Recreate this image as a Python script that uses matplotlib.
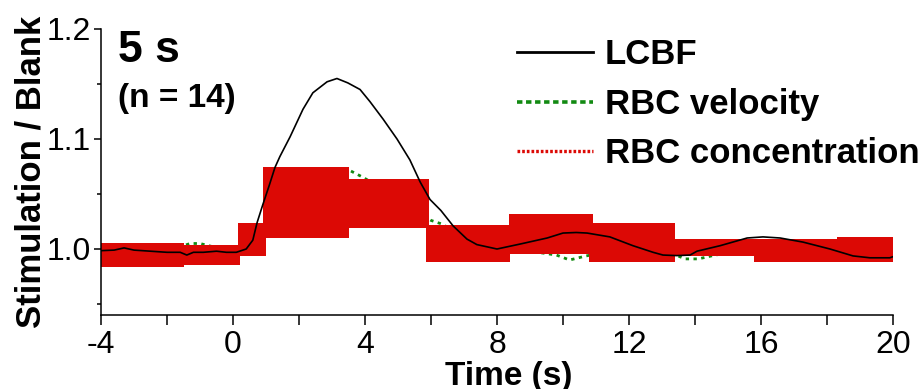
import matplotlib
matplotlib.use("Agg")
import matplotlib.pyplot as plt
from matplotlib.lines import Line2D
from matplotlib.ticker import MultipleLocator
import numpy as np

plt.rcParams['font.family'] = ['Liberation Sans', 'DejaVu Sans']

# ---- data ----
lcbf_t = [-4.0, -3.6, -3.3, -3.0, -2.5, -2.0, -1.6, -1.4, -1.2, -0.9, -0.5, -0.2, 0.1, 0.4,
          0.6, 0.73, 0.9, 1.1, 1.27, 1.42, 1.73, 2.12, 2.42, 2.85, 3.15, 3.48, 3.85, 4.15,
          4.55, 4.97, 5.36, 5.67, 5.97, 6.3, 6.67, 7.09, 7.39, 8.0, 8.7, 9.52, 10.0, 10.4,
          10.73, 11.42, 12.12, 12.73, 13.03, 13.45, 13.85, 14.06, 14.76, 15.58, 16.06, 16.58,
          17.27, 18.09, 18.79, 19.3, 19.9, 20.0]
lcbf = [0.9985, 0.999, 1.001, 0.999, 0.998, 0.997, 0.997, 0.9945, 0.997, 0.997, 0.998, 0.997,
        0.997, 1.0, 1.008, 1.024, 1.040, 1.058, 1.074, 1.084, 1.102, 1.127, 1.142, 1.152,
        1.155, 1.151, 1.145, 1.134, 1.118, 1.100, 1.081, 1.061, 1.045, 1.035, 1.021, 1.009,
        1.004, 1.000, 1.0045, 1.010, 1.0145, 1.015, 1.0145, 1.011, 1.003, 0.997, 0.9945,
        0.994, 0.9945, 0.998, 1.003, 1.010, 1.011, 1.010, 1.0063, 1.000, 0.9937, 0.992,
        0.992, 0.993]

vel_t = [-4, -3, -2, -1.6, -1.3, -1.0, -0.6, 0.0, 0.5, 1.0, 1.5, 2.0, 2.5, 3.0, 3.5, 3.95,
         4.5, 5.0, 5.5, 6.0, 6.3, 7.0, 8.0, 9.0, 9.8, 10.2, 10.7, 11.5, 12.5, 13.3, 13.7,
         14.1, 14.5, 15.2, 16.0, 17.0, 18.0, 19.0, 20.0]
vel = [0.998, 0.999, 1.000, 1.002, 1.005, 1.005, 1.002, 1.000, 1.005, 1.020, 1.038, 1.052,
       1.062, 1.069, 1.072, 1.065, 1.055, 1.046, 1.036, 1.026, 1.023, 1.012, 1.002, 0.998,
       0.9945, 0.990, 0.9937, 0.998, 0.999, 0.996, 0.991, 0.991, 0.9937, 0.998, 1.001,
       1.001, 0.998, 0.994, 0.993]

conc_start = [-4.0, -1.5, 0.15, 0.9, 3.5, 5.85, 8.35, 10.8, 13.4, 15.8, 18.3]
conc_end = [-1.5, 0.2, 1.0, 3.5, 5.95, 8.4, 10.9, 13.4, 15.8, 18.3, 20.0]
conc_mean = [0.9946, 0.9946, 1.0086, 1.0421, 1.0412, 1.0050, 1.0136, 1.0059, 1.0014, 0.9986, 0.9996]
conc_sem = [0.0109, 0.0090, 0.0149, 0.0321, 0.0222, 0.0168, 0.0181, 0.0177, 0.0077, 0.0104, 0.0114]

xticks = [-4, 0, 4, 8, 12, 16, 20]
yticks = [1.0, 1.1, 1.2]

RED = '#dc0905'
GREEN = '#128a12'

fig = plt.figure(figsize=(9.24, 3.89), dpi=100)
ax = fig.add_axes([101/924, 74/389, 792/924, 286/389])

ax.plot(vel_t, vel, color=GREEN, lw=2.0, linestyle=(0, (1.2, 1.6)), zorder=1)
cs = np.array(conc_start); ce = np.array(conc_end)
cm = np.array(conc_mean); se = np.array(conc_sem)
ax.bar(cs, 2 * se, bottom=cm - se, width=ce - cs, align='edge', color=RED, lw=0, zorder=2)
ax.plot(lcbf_t, lcbf, color='black', lw=1.2, zorder=3)

ax.set_xlim(-4, 20)
ax.set_ylim(0.94, 1.2)
ax.set_xticks(xticks)
ax.set_xticklabels([str(v) for v in xticks])
ax.xaxis.set_minor_locator(MultipleLocator(2))
ax.set_yticks(yticks)
ax.set_yticklabels(['%.1f' % v for v in yticks])
ax.yaxis.set_minor_locator(MultipleLocator(0.05))

for s in ['top', 'right']:
    ax.spines[s].set_visible(False)
for s in ['left', 'bottom']:
    ax.spines[s].set_linewidth(1.1)

ax.tick_params(axis='x', which='both', direction='out', length=7.5, width=1.1,
               labelsize=23, pad=3)
ax.tick_params(axis='y', which='major', direction='out', length=5, width=1.1,
               labelsize=23, pad=2)
ax.tick_params(axis='y', which='minor', direction='out', length=3, width=1.1)

ax.set_xlabel('Time (s)', fontsize=24, fontweight='bold')
ax.xaxis.set_label_coords(0.515, -0.16)
ax.set_ylabel('Stimulation / Blank', fontsize=25, fontweight='bold')
ax.yaxis.set_label_coords(-0.068, 0.5)

fig.text(118/924, (389-62)/389, '5 s', fontsize=32, fontweight='bold', va='baseline')
fig.text(118/924, (389-107)/389, '(n = 14)', fontsize=24, fontweight='bold', va='baseline')

handles = [Line2D([], [], color='black', lw=2.0),
           Line2D([], [], color=GREEN, lw=2.6, linestyle=(0, (1.5, 1.0))),
           Line2D([], [], color=RED, lw=2.4, linestyle=(0, (0.8, 0.6)))]
labels = ['LCBF', 'RBC velocity', 'RBC concentration']
ax.legend(handles, labels, loc='upper left', bbox_to_anchor=(517/924, (389-38)/389),
          bbox_transform=fig.transFigure, frameon=False, borderpad=0, borderaxespad=0,
          handlelength=2.2, handletextpad=0.33, labelspacing=0.48,
          prop={'size': 25, 'weight': 'bold'})

fig.savefig('out.png', dpi=100)
